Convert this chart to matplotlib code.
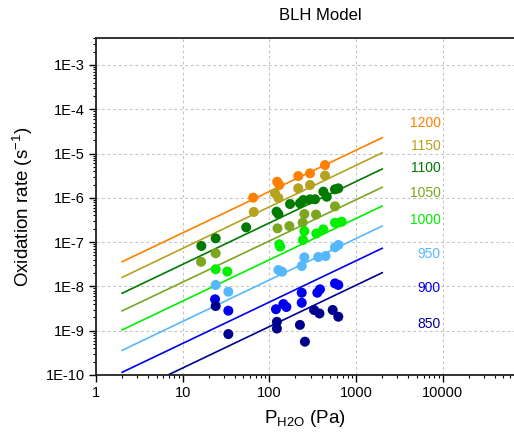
import numpy as np
import matplotlib
matplotlib.use("Agg")
import matplotlib.pyplot as plt
from matplotlib.ticker import LogLocator, FixedLocator, NullFormatter

plt.rcParams['font.family'] = ['Liberation Sans', 'DejaVu Sans']

temperatures = ["1200", "1150", "1100", "1050", "1000", "950", "900", "850"]
colors = ["#FF8000", "#B5A21F", "#007A00", "#7BA61F", "#00F000", "#55B8FF", "#0000F0", "#00008F"]

# model line endpoints (P = 2 Pa and P = 2000 Pa)
line_p = [2, 2000]
line_start = [3.6e-8, 1.6e-8, 7.0e-9, 2.8e-9, 1.04e-9, 3.6e-10, 1.15e-10, 3.2e-11]
line_end = [2.28e-5, 1.04e-5, 4.48e-6, 1.73e-6, 6.55e-7, 2.31e-7, 7.26e-8, 2.04e-8]

p_1200 = [65, 123, 130, 215, 294, 438]
r_1200 = [1.01e-6, 2.31e-6, 1.95e-6, 3.11e-6, 3.58e-6, 5.5e-6]

p_1150 = [66, 116, 127, 215, 294, 438]
r_1150 = [4.8e-7, 1.27e-6, 9.9e-7, 1.64e-6, 1.95e-6, 3.19e-6]

p_1100 = [16.4, 24.0, 54, 121, 127, 173, 225, 246, 294, 336, 419, 458, 571, 623]
r_1100 = [8.2e-8, 1.22e-7, 2.16e-7, 4.87e-7, 4.31e-7, 7.26e-7, 7.53e-7, 8.93e-7,
          9.27e-7, 9.3e-7, 1.38e-6, 1.06e-6, 1.56e-6, 1.64e-6]

p_1050 = [16.3, 24.0, 124, 170, 242, 253, 345, 571]
r_1050 = [3.6e-8, 5.6e-8, 2.05e-7, 2.31e-7, 2.75e-7, 4.31e-7, 4.2e-7, 6.44e-7]

p_1000 = [24.0, 32.7, 130, 133, 244, 253, 348, 419, 571, 682]
r_1000 = [2.44e-8, 2.17e-8, 8.93e-8, 7.89e-8, 1.12e-7, 1.77e-7, 1.57e-7, 1.94e-7, 2.75e-7, 2.89e-7]

p_950 = [24.0, 33.6, 127, 140, 236, 253, 366, 444, 571, 623]
r_950 = [1.08e-8, 7.6e-9, 2.35e-8, 2.15e-8, 2.89e-8, 4.54e-8, 4.61e-8, 4.86e-8, 7.64e-8, 8.61e-8]

p_900 = [23.6, 33.6, 119, 145, 157, 236, 236, 357, 383, 571, 623]
r_900 = [5.12e-9, 2.83e-9, 3.06e-9, 4.0e-9, 3.43e-9, 7.21e-9, 4.28e-9, 7.21e-9, 8.61e-9, 1.17e-8, 1.08e-8]

p_850 = [24.0, 33.6, 122, 122, 225, 257, 327, 378, 537, 623]
r_850 = [3.61e-9, 8.4e-10, 1.59e-9, 1.12e-9, 1.35e-9, 5.65e-10, 2.94e-9, 2.45e-9, 2.94e-9, 2.07e-9]

series_p = [p_1200, p_1150, p_1100, p_1050, p_1000, p_950, p_900, p_850]
series_r = [r_1200, r_1150, r_1100, r_1050, r_1000, r_950, r_900, r_850]

x_ticks = [1, 10, 100, 1000, 10000]
x_ticklabels = ["1", "10", "100", "1000", "10000"]
y_ticks = [1e-10, 1e-9, 1e-8, 1e-7, 1e-6, 1e-5, 1e-4, 1e-3]
y_ticklabels = ["1E-10", "1E-9", "1E-8", "1E-7", "1E-6", "1E-5", "1E-4", "1E-3"]

W, H = 514, 432
fig = plt.figure(figsize=(W / 100, H / 100), dpi=100)
left, right, top, bottom = 96, 514, 38, 375
ax = fig.add_axes([left / W, 1 - bottom / H, (right - left) / W, (bottom - top) / H])

ax.set_xscale('log')
ax.set_yscale('log')
ax.set_xlim(1, 10 ** ((right - left) / 86.7))
ax.set_ylim(1e-10, 10 ** (-3 + (65 - 38) / 44.29))

ax.grid(True, which='major', color='#C4C4C4', linestyle=(0, (2.5, 2.5)), linewidth=0.8)
ax.set_axisbelow(True)

for p, r, c in zip(series_p, series_r, colors):
    ax.scatter(p, r, s=52, color=c, edgecolors='none', zorder=3, clip_on=True)

for s, e, c in zip(line_start, line_end, colors):
    ax.plot(line_p, [s, e], color=c, linewidth=1.2, zorder=2)

ax.xaxis.set_major_locator(FixedLocator(x_ticks))
ax.set_xticklabels(x_ticklabels)
ax.xaxis.set_minor_locator(LogLocator(base=10, subs=np.arange(2, 10), numticks=20))
ax.xaxis.set_minor_formatter(NullFormatter())
ax.yaxis.set_major_locator(FixedLocator(y_ticks))
ax.set_yticklabels(y_ticklabels)
ax.yaxis.set_minor_locator(LogLocator(base=10, subs=np.arange(2, 10), numticks=20))
ax.yaxis.set_minor_formatter(NullFormatter())

ax.tick_params(which='major', direction='out', length=5, width=1.0, labelsize=10.5, pad=3)
ax.tick_params(which='minor', direction='out', length=2.5, width=0.8)

for sp in ['left', 'bottom', 'top']:
    ax.spines[sp].set_linewidth(1.3)
    ax.spines[sp].set_color('#222222')
ax.spines['right'].set_visible(False)

label_y = [0.748, 0.680, 0.614, 0.540, 0.460, 0.359, 0.258, 0.151]
for t, c, yy in zip(temperatures, colors, label_y):
    ax.text(0.825, yy, t, color=c, fontsize=10, ha='right', va='center', transform=ax.transAxes)

ax.set_xlabel("P$_{\\mathregular{H2O}}$ (Pa)", fontsize=13.5, labelpad=6)
ax.set_ylabel("Oxidation rate (s$^{\\mathregular{-1}}$)", fontsize=13.5, labelpad=8)
fig.text(320 / W, 1 - 16 / H, "BLH Model", fontsize=12, ha='center', va='center')

fig.savefig("out.png", dpi=100, facecolor='white')
